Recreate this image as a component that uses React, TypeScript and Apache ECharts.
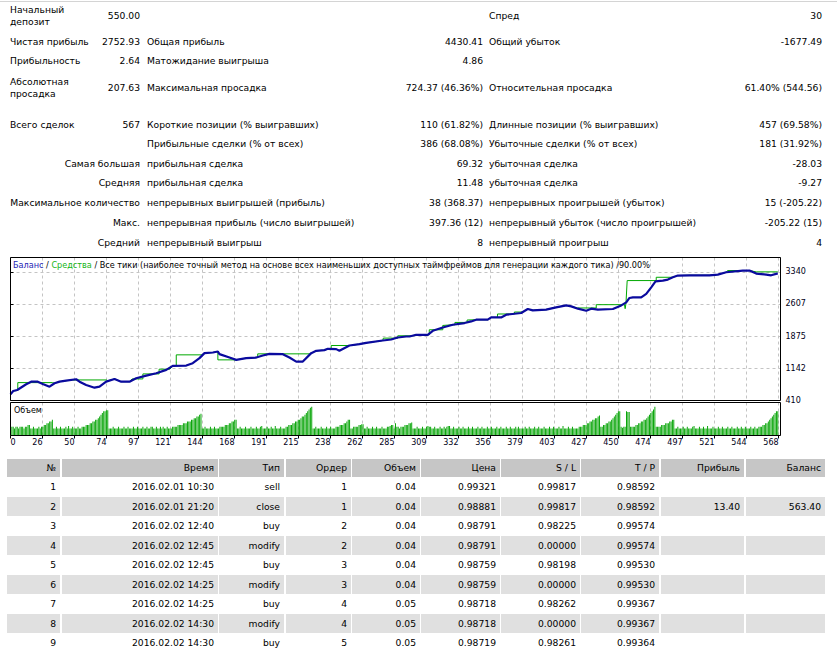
import React, { useEffect, useRef } from "react";
import * as echarts from "echarts";

const FONT = '"DejaVu Sans", Verdana, sans-serif';

// ---- summary block ----
const SUMMARY_ROWS: string[][] = [
  ["Начальный\nдепозит", "550.00", "", "", "Спред", "30"],
  ["Чистая прибыль", "2752.93", "Общая прибыль", "4430.41", "Общий убыток", "-1677.49"],
  ["Прибыльность", "2.64", "Матожидание выигрыша", "4.86", "", ""],
  ["Абсолютная\nпросадка", "207.63", "Максимальная просадка", "724.37 (46.36%)", "Относительная просадка", "61.40% (544.56)"],
  ["Всего сделок", "567", "Короткие позиции (% выигравших)", "110 (61.82%)", "Длинные позиции (% выигравших)", "457 (69.58%)"],
  ["", "", "Прибыльные сделки (% от всех)", "386 (68.08%)", "Убыточные сделки (% от всех)", "181 (31.92%)"],
];
const SUMMARY_DETAIL_ROWS: string[][] = [
  ["Самая большая", "прибыльная сделка", "69.32", "убыточная сделка", "-28.03"],
  ["Средняя", "прибыльная сделка", "11.48", "убыточная сделка", "-9.27"],
  ["Максимальное количество", "непрерывных выигрышей (прибыль)", "38 (368.37)", "непрерывных проигрышей (убыток)", "15 (-205.22)"],
  ["Макс.", "непрерывная прибыль (число выигрышей)", "397.36 (12)", "непрерывный убыток (число проигрышей)", "-205.22 (15)"],
  ["Средний", "непрерывный выигрыш", "8", "непрерывный проигрыш", "4"],
];

// ---- deals table ----
const TRADE_HEADERS = ["№", "Время", "Тип", "Ордер", "Объем", "Цена", "S / L", "T / P", "Прибыль", "Баланс"];
const TRADE_ROWS: string[][] = [
  ["1", "2016.02.01 10:30", "sell", "1", "0.04", "0.99321", "0.99817", "0.98592", "", ""],
  ["2", "2016.02.01 21:20", "close", "1", "0.04", "0.98881", "0.99817", "0.98592", "13.40", "563.40"],
  ["3", "2016.02.02 12:40", "buy", "2", "0.04", "0.98791", "0.98225", "0.99574", "", ""],
  ["4", "2016.02.02 12:45", "modify", "2", "0.04", "0.98791", "0.00000", "0.99574", "", ""],
  ["5", "2016.02.02 12:45", "buy", "3", "0.04", "0.98759", "0.98198", "0.99530", "", ""],
  ["6", "2016.02.02 14:25", "modify", "3", "0.04", "0.98759", "0.00000", "0.99530", "", ""],
  ["7", "2016.02.02 14:25", "buy", "4", "0.05", "0.98718", "0.98262", "0.99367", "", ""],
  ["8", "2016.02.02 14:30", "modify", "4", "0.05", "0.98718", "0.00000", "0.99367", "", ""],
  ["9", "2016.02.02 14:30", "buy", "5", "0.05", "0.98719", "0.98261", "0.99364", "", ""],
];

// ---- chart data: [trade number, amount] ----
const BALANCE: number[][] = [
  [0, 550], [2, 627], [5, 650], [11.6, 780], [15.3, 839], [20.2, 839], [23.9, 787], [28.9, 725], [32.6, 803], [36.3, 839],
  [41.2, 862], [48.6, 894], [51.1, 839], [56, 764], [62.2, 702], [65.9, 725], [70.8, 839], [77, 901], [81.9, 839], [88.1, 839],
  [93, 917], [100.5, 976], [107.9, 1031], [115.3, 1107], [120.1, 1198], [130.1, 1205], [134.9, 1260], [139.9, 1374], [143.6, 1488], [149.8, 1502],
  [153.5, 1525], [154.7, 1465], [162.1, 1388], [167.1, 1335], [174.5, 1374], [181.9, 1388], [186.8, 1433], [191.7, 1472], [201.6, 1465], [206.5, 1388],
  [211.5, 1296], [216.4, 1296], [222.6, 1488], [226.3, 1541], [232.4, 1557], [234.9, 1586], [241.1, 1579], [243.5, 1541], [250.9, 1662], [258.3, 1694],
  [263.3, 1723], [275.6, 1776], [281.8, 1799], [286.7, 1844], [292.9, 1867], [295.4, 1867], [300.3, 1906], [308.9, 1906], [312.6, 1997], [320, 2073],
  [327.4, 2134], [336.1, 2173], [341, 2210], [344.7, 2249], [353.3, 2249], [355.8, 2301], [363.2, 2301], [367, 2363], [378, 2402], [382.9, 2493],
  [386.6, 2461], [396.5, 2477], [403.9, 2530], [411.4, 2575], [415.1, 2552], [420, 2500], [426.2, 2454], [429.9, 2500], [434.8, 2477], [445.9, 2493],
  [452.1, 2575], [455.8, 2644], [458.2, 2744], [460.7, 2758], [466.9, 2758], [470.6, 2836], [474.3, 2986], [477.5, 3123], [482.9, 3139], [486.6, 3162],
  [490.3, 3215], [494, 3254], [502.6, 3260], [517.4, 3260], [523.6, 3276], [529.8, 3329], [542.1, 3368], [547, 3368], [552, 3299], [559.4, 3276],
  [563.1, 3260], [568, 3302.93],
];

const EQUITY: number[][] = [
  [0, 550], [2, 627], [5.4, 640], [5.4, 817], [31, 817], [32.6, 803], [36.3, 839], [41.2, 862], [46, 878], [71, 878],
  [72, 860], [77, 901], [81.9, 839], [88.1, 839], [90, 901], [98, 901], [98, 1015], [110, 1015], [110, 1123], [118, 1123],
  [120.1, 1198], [122.7, 1205], [122.7, 1449], [142.4, 1449], [143.6, 1488], [149.8, 1502], [153.5, 1525], [153.5, 1335], [164.6, 1335], [167.1, 1335],
  [174.5, 1374], [181.9, 1388], [183, 1388], [183, 1472], [221.3, 1472], [222.6, 1488], [226.3, 1541], [232.4, 1557], [234.9, 1586], [237.4, 1586],
  [237.4, 1662], [252.2, 1662], [258.3, 1694], [263.3, 1723], [275.6, 1776], [276, 1776], [276, 1830], [286.7, 1830], [286.7, 1883], [298, 1883],
  [300.3, 1906], [308.9, 1906], [310, 1906], [310, 2020], [320, 2020], [320, 2118], [327.4, 2134], [329, 2134], [329, 2187], [338, 2187],
  [338, 2242], [345, 2249], [353.3, 2249], [355.8, 2301], [360.5, 2301], [360.5, 2379], [373, 2379], [373, 2424], [379, 2424], [382.9, 2493],
  [386.6, 2461], [396.5, 2477], [403.9, 2530], [411.4, 2575], [415.1, 2552], [419.7, 2516], [433.6, 2516], [433.6, 2591], [454.5, 2591], [455, 2500],
  [455.6, 2620], [456.5, 3140], [478, 3140], [478, 3215], [490.3, 3215], [494, 3254], [502.6, 3260], [517.4, 3260], [523.6, 3276], [529.8, 3329],
  [530.8, 3368], [544.6, 3368], [547, 3368], [552, 3338], [568, 3338],
];

// lots per deal, deal 0 .. 568
const VOLUMES: number[] = [
  0.04, 0.05, 0.05, 0.04, 0.05, 0.05, 0.04, 0.05, 0.05, 0.05, 0.04, 0.05, 0.05, 0.06, 0.06, 0.04, 0.04, 0.05, 0.04, 0.04,
  0.04, 0.05, 0.04, 0.05, 0.05, 0.06, 0.06, 0.07, 0.07, 0.08, 0.08, 0.09, 0.04, 0.04, 0.05, 0.04, 0.04, 0.05, 0.04, 0.04,
  0.04, 0.05, 0.04, 0.055, 0.04, 0.04, 0.05, 0.04, 0.04, 0.04, 0.05, 0.04, 0.04, 0.05, 0.05, 0.05, 0.06, 0.06, 0.06, 0.07,
  0.07, 0.08, 0.08, 0.09, 0.09, 0.1, 0.11, 0.12, 0.13, 0.14, 0.14, 0.145, 0.145, 0.04, 0.04, 0.04, 0.05, 0.04, 0.04, 0.04,
  0.05, 0.04, 0.04, 0.04, 0.05, 0.04, 0.04, 0.05, 0.04, 0.04, 0.04, 0.05, 0.04, 0.04, 0.05, 0.04, 0.04, 0.04, 0.05, 0.04,
  0.04, 0.05, 0.04, 0.04, 0.05, 0.05, 0.04, 0.04, 0.05, 0.04, 0.04, 0.05, 0.04, 0.05, 0.04, 0.04, 0.05, 0.04, 0.04, 0.04,
  0.05, 0.05, 0.05, 0.05, 0.06, 0.06, 0.06, 0.06, 0.07, 0.07, 0.07, 0.08, 0.08, 0.08, 0.09, 0.09, 0.1, 0.1, 0.11, 0.11,
  0.12, 0.125, 0.04, 0.04, 0.05, 0.04, 0.04, 0.04, 0.05, 0.04, 0.04, 0.05, 0.04, 0.04, 0.04, 0.05, 0.05, 0.05, 0.05, 0.06,
  0.06, 0.06, 0.07, 0.07, 0.08, 0.08, 0.09, 0.09, 0.04, 0.04, 0.05, 0.04, 0.04, 0.04, 0.05, 0.04, 0.04, 0.04, 0.05, 0.04,
  0.04, 0.04, 0.05, 0.04, 0.04, 0.05, 0.055, 0.04, 0.04, 0.04, 0.05, 0.04, 0.04, 0.05, 0.04, 0.04, 0.055, 0.04, 0.04, 0.04,
  0.05, 0.04, 0.04, 0.04, 0.05, 0.05, 0.06, 0.06, 0.06, 0.07, 0.07, 0.08, 0.08, 0.09, 0.09, 0.1, 0.11, 0.11, 0.12, 0.13,
  0.14, 0.15, 0.16, 0.166, 0.04, 0.04, 0.05, 0.04, 0.04, 0.04, 0.05, 0.04, 0.04, 0.04, 0.05, 0.04, 0.04, 0.05, 0.04, 0.04,
  0.04, 0.05, 0.05, 0.05, 0.06, 0.06, 0.06, 0.07, 0.07, 0.08, 0.09, 0.09, 0.04, 0.04, 0.05, 0.05, 0.05, 0.05, 0.06, 0.06,
  0.065, 0.065, 0.04, 0.04, 0.05, 0.04, 0.04, 0.04, 0.05, 0.04, 0.04, 0.05, 0.04, 0.04, 0.04, 0.05, 0.04, 0.04, 0.04, 0.05,
  0.05, 0.055, 0.06, 0.06, 0.04, 0.07, 0.05, 0.05, 0.04, 0.05, 0.05, 0.05, 0.06, 0.06, 0.06, 0.07, 0.07, 0.075, 0.04, 0.04,
  0.04, 0.05, 0.04, 0.04, 0.04, 0.05, 0.04, 0.04, 0.05, 0.055, 0.05, 0.05, 0.04, 0.04, 0.05, 0.04, 0.04, 0.04, 0.05, 0.04,
  0.04, 0.05, 0.04, 0.05, 0.055, 0.055, 0.04, 0.04, 0.05, 0.04, 0.04, 0.04, 0.05, 0.04, 0.04, 0.05, 0.04, 0.04, 0.04, 0.05,
  0.04, 0.04, 0.05, 0.04, 0.04, 0.04, 0.05, 0.04, 0.04, 0.05, 0.04, 0.04, 0.04, 0.05, 0.04, 0.04, 0.05, 0.04, 0.04, 0.04,
  0.05, 0.04, 0.04, 0.05, 0.04, 0.04, 0.04, 0.05, 0.04, 0.04, 0.05, 0.04, 0.04, 0.04, 0.05, 0.04, 0.05, 0.04, 0.04, 0.04,
  0.04, 0.05, 0.04, 0.04, 0.05, 0.04, 0.04, 0.04, 0.05, 0.04, 0.04, 0.05, 0.04, 0.04, 0.04, 0.05, 0.04, 0.04, 0.04, 0.05,
  0.04, 0.04, 0.05, 0.04, 0.04, 0.04, 0.05, 0.04, 0.04, 0.055, 0.04, 0.04, 0.04, 0.05, 0.04, 0.04, 0.05, 0.04, 0.04, 0.04,
  0.04, 0.05, 0.05, 0.05, 0.06, 0.06, 0.06, 0.07, 0.07, 0.08, 0.08, 0.09, 0.09, 0.1, 0.1, 0.11, 0.115, 0.05, 0.05, 0.06,
  0.06, 0.07, 0.07, 0.08, 0.08, 0.09, 0.1, 0.11, 0.12, 0.13, 0.14, 0.14, 0.05, 0.045, 0.05, 0.05, 0.14, 0.135, 0.135, 0.05,
  0.05, 0.05, 0.05, 0.06, 0.06, 0.07, 0.07, 0.08, 0.08, 0.09, 0.09, 0.1, 0.11, 0.12, 0.13, 0.14, 0.15, 0.166, 0.05, 0.05,
  0.05, 0.05, 0.06, 0.06, 0.06, 0.07, 0.07, 0.07, 0.08, 0.08, 0.09, 0.09, 0.04, 0.04, 0.05, 0.04, 0.04, 0.04, 0.05, 0.04,
  0.04, 0.05, 0.04, 0.04, 0.04, 0.05, 0.055, 0.04, 0.04, 0.04, 0.05, 0.04, 0.04, 0.05, 0.04, 0.04, 0.055, 0.04, 0.04, 0.04,
  0.05, 0.04, 0.04, 0.04, 0.05, 0.04, 0.04, 0.05, 0.04, 0.04, 0.04, 0.05, 0.04, 0.04, 0.05, 0.04, 0.04, 0.04, 0.05, 0.04,
  0.04, 0.05, 0.04, 0.04, 0.05, 0.04, 0.04, 0.04, 0.05, 0.04, 0.04, 0.05, 0.04, 0.04, 0.05, 0.05, 0.05, 0.06, 0.06, 0.07,
  0.07, 0.08, 0.09, 0.1, 0.11, 0.12, 0.13, 0.14, 0.14,
];

const X_TICK_LABELS = ["0", "26", "50", "74", "97", "121", "144", "168", "191", "215", "238", "262", "285", "309", "332", "356", "379", "403", "427", "450", "474", "497", "521", "544", "568"];
const TRADE_MAX = 570;
const X_STEP = TRADE_MAX / 24.06;
const Y_MIN = 410;
const Y_STEP = 732.5;
const Y_MAX = 3665;
const VOLUME_MAX = 0.19;

const CHART_TITLE_MAIN = "Все тики (наиболее точный метод на основе всех наименьших доступных таймфреймов для генерации каждого тика) /90.00%";

// plot frames inside the chart element (pixels)
const MAIN_BOX = { x: 10.5, y: 2.5, w: 770, h: 143 };
const VOL_BOX = { x: 10.5, y: 147.5, w: 770, h: 33 };

function EquityChart() {
  const ref = useRef<HTMLDivElement>(null);
  useEffect(() => {
    if (!ref.current) return;
    const chart = echarts.init(ref.current, null, { renderer: "svg" });
    const gridDash = { color: "#c4c4c4", type: [3, 3] as number[], width: 1 };
    const frame = (b: { x: number; y: number; w: number; h: number }) => ({
      type: "rect", z: 100, silent: true,
      shape: { x: b.x, y: b.y, width: b.w, height: b.h },
      style: { fill: "none", stroke: "#000", lineWidth: 1 },
    });
    chart.setOption({
      animation: false,
      backgroundColor: "#fff",
      textStyle: { fontFamily: FONT },
      grid: [
        { left: MAIN_BOX.x, top: MAIN_BOX.y, width: MAIN_BOX.w, height: MAIN_BOX.h, show: false },
        { left: VOL_BOX.x, top: VOL_BOX.y, width: VOL_BOX.w, height: VOL_BOX.h, show: false },
      ],
      xAxis: [
        {
          type: "value", gridIndex: 0, min: 0, max: TRADE_MAX, interval: X_STEP,
          axisLine: { show: false }, axisTick: { show: false }, axisLabel: { show: false },
          splitLine: { show: true, lineStyle: gridDash },
        },
        {
          type: "value", gridIndex: 1, min: 0, max: TRADE_MAX, interval: X_STEP,
          axisLine: { show: false },
          axisTick: { show: true, length: 3, lineStyle: { color: "#000" } },
          axisLabel: {
            fontSize: 8, color: "#000018", margin: 3, align: "right", alignMinLabel: "left",
            showMaxLabel: false,
            formatter: (v: number) => X_TICK_LABELS[Math.round(v / X_STEP)] ?? "",
          },
          splitLine: { show: true, lineStyle: gridDash },
        },
      ],
      yAxis: [
        {
          type: "value", gridIndex: 0, position: "right", min: Y_MIN, max: Y_MAX, interval: Y_STEP,
          axisLine: { show: false },
          axisTick: { show: true, length: 3, lineStyle: { color: "#000" } },
          axisLabel: { fontSize: 8, color: "#000018", margin: 5, showMaxLabel: false, formatter: (v: number) => String(Math.floor(v)) },
          splitLine: { show: true, lineStyle: gridDash },
        },
        { type: "value", gridIndex: 1, min: 0, max: VOLUME_MAX, show: false, splitLine: { show: false } },
      ],
      series: [
        {
          name: "Средства", type: "line", xAxisIndex: 0, yAxisIndex: 0, data: EQUITY,
          symbol: "none", lineStyle: { color: "#00a800", width: 1 }, z: 2,
        },
        {
          name: "Баланс", type: "line", xAxisIndex: 0, yAxisIndex: 0, data: BALANCE,
          symbol: "none", lineStyle: { color: "#0a0a9e", width: 2.2 }, z: 3,
        },
        {
          name: "Объем", type: "bar", xAxisIndex: 1, yAxisIndex: 1,
          data: VOLUMES.map((v, i) => [i, v]), barWidth: 1,
          itemStyle: { color: "#0aa60a" },
        },
      ],
      graphic: [
        frame(MAIN_BOX),
        frame(VOL_BOX),
        {
          type: "text", left: 13, top: 6, z: 10,
          style: {
            text: "{b|Баланс} {k|/} {g|Средства} {k|/ " + CHART_TITLE_MAIN + "}",
            font: `8.15px ${FONT}`,
            rich: {
              b: { fill: "#2424b4", font: `8.15px ${FONT}` },
              g: { fill: "#14b414", font: `8.15px ${FONT}` },
              k: { fill: "#000", font: `8.15px ${FONT}` },
            },
          },
        },
        { type: "text", left: 14, top: 151, z: 10, style: { text: "Объем", fill: "#000", font: `8px ${FONT}` } },
      ],
    });
    return () => chart.dispose();
  }, []);
  return <div ref={ref} style={{ position: "absolute", left: 0, top: 255, width: 837, height: 200 }} />;
}

const TXT: React.CSSProperties = { position: "absolute", whiteSpace: "pre", lineHeight: "12px", fontSize: 9.2, color: "#000" };
const W = 837;

function Cell({ text, x, y, right }: { text: string; x: number; y: number; right?: boolean }) {
  if (!text) return null;
  const lines = text.split("\n").length;
  const top = y - 6 * lines;
  const style: React.CSSProperties = right ? { ...TXT, top, right: W - x, textAlign: "right" } : { ...TXT, top, left: x };
  return <div style={style}>{text}</div>;
}

const SUMMARY_Y = [16, 42, 61, 88, 125, 144];
const DETAIL_Y = [164, 183, 203, 223, 243];

const COL_LEFT = [7, 62, 219, 286, 352, 421, 501, 581, 661, 746];
const COL_WIDTH = [53, 156, 65, 65, 68, 79, 79, 78, 83, 79];

export default function App() {
  return (
    <div style={{ position: "fixed", left: 0, top: 0, width: W, height: 657, background: "#fff", fontFamily: FONT, overflow: "hidden" }}>
      <div style={{ position: "absolute", left: 0, top: 1, width: W, height: 1, background: "#d4d4d4" }} />
      {SUMMARY_ROWS.map((r, i) => (
        <React.Fragment key={"s" + i}>
          <Cell text={r[0]} x={10} y={SUMMARY_Y[i]} />
          <Cell text={r[1]} x={140} y={SUMMARY_Y[i]} right />
          <Cell text={r[2]} x={147} y={SUMMARY_Y[i]} />
          <Cell text={r[3]} x={483} y={SUMMARY_Y[i]} right />
          <Cell text={r[4]} x={489} y={SUMMARY_Y[i]} />
          <Cell text={r[5]} x={822} y={SUMMARY_Y[i]} right />
        </React.Fragment>
      ))}
      {SUMMARY_DETAIL_ROWS.map((r, i) => (
        <React.Fragment key={"d" + i}>
          <Cell text={r[0]} x={140} y={DETAIL_Y[i]} right />
          <Cell text={r[1]} x={147} y={DETAIL_Y[i]} />
          <Cell text={r[2]} x={483} y={DETAIL_Y[i]} right />
          <Cell text={r[3]} x={489} y={DETAIL_Y[i]} />
          <Cell text={r[4]} x={822} y={DETAIL_Y[i]} right />
        </React.Fragment>
      ))}
      <EquityChart />
      {[TRADE_HEADERS, ...TRADE_ROWS].map((row, ri) => {
        const top = ri === 0 ? 458.5 : 477 + (ri - 1) * 19.5;
        const h = ri === 0 ? 18.5 : 19.5;
        const bg = ri === 0 ? "#c6c6c6" : ri % 2 === 0 ? "#e0e0e0" : "#fff";
        return row.map((t, ci) => (
          <div
            key={ri + "-" + ci}
            style={{
              position: "absolute", left: COL_LEFT[ci], top, width: COL_WIDTH[ci], height: h, background: bg,
              boxSizing: "border-box", paddingRight: 4, textAlign: "right", fontSize: 9.2, lineHeight: h + "px", color: "#000", whiteSpace: "pre",
            }}
          >
            {t}
          </div>
        ));
      })}
    </div>
  );
}
